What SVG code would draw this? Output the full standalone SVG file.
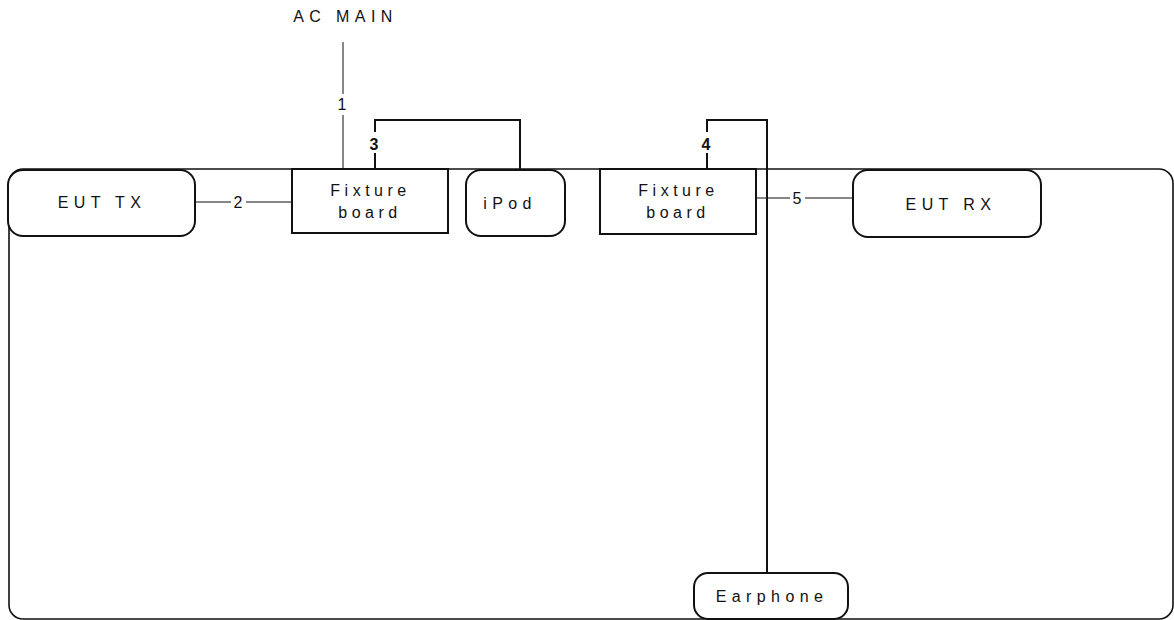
<svg xmlns="http://www.w3.org/2000/svg" width="1174" height="620" viewBox="0 0 1174 620">
<style>
text{font-family:"Liberation Sans",Arial,sans-serif;font-size:16px;fill:#111;text-anchor:middle;letter-spacing:5.4px}
.fx{letter-spacing:4.5px}
.lbl{letter-spacing:0}
.b{font-weight:bold}
.box{fill:#fff;stroke:#111;stroke-width:2}
.thin{fill:none;stroke:#111;stroke-width:1}
.thick{fill:none;stroke:#111;stroke-width:2}
</style>
<rect x="9" y="169" width="1164" height="450" rx="14" fill="none" stroke="#111" stroke-width="1.6"/>
<g id="connectors">
<line class="thin" x1="343" y1="42" x2="343" y2="94"/>
<line class="thin" x1="343" y1="115" x2="343" y2="169"/>
<text class="lbl" x="342" y="110">1</text>
<line class="thin" x1="195" y1="202" x2="231" y2="202"/>
<line class="thin" x1="246" y1="202" x2="292" y2="202"/>
<text class="lbl" x="238" y="208">2</text>
<polyline class="thick" points="375,132 375,120 520,120 520,170"/>
<line class="thick" x1="375" y1="153" x2="375" y2="169"/>
<text class="lbl b" x="374" y="150">3</text>
<polyline class="thick" points="707,132 707,120 767,120 767,574"/>
<line class="thick" x1="707" y1="153" x2="707" y2="169"/>
<text class="lbl b" x="706" y="150">4</text>
<line class="thin" x1="756" y1="198" x2="790" y2="198"/>
<line class="thin" x1="805" y1="198" x2="853" y2="198"/>
<text class="lbl" x="797" y="204">5</text>
</g>
<text x="345.5" y="22">AC MAIN</text>
<g id="eut-tx"><rect class="box" x="8" y="170" width="187" height="66" rx="15"/><text x="102" y="208">EUT TX</text></g>
<g id="fixture1"><rect class="box" x="292" y="169" width="156" height="64"/><text class="fx" x="370.5" y="196">Fixture</text><text class="fx" x="370" y="218">board</text></g>
<g id="ipod"><rect class="box" x="466" y="170" width="99" height="66" rx="15"/><text x="510" y="209">iPod</text></g>
<g id="fixture2"><rect class="box" x="600" y="169" width="156" height="65"/><text class="fx" x="678.5" y="196">Fixture</text><text class="fx" x="678" y="218">board</text></g>
<g id="eut-rx"><rect class="box" x="853" y="170" width="188" height="67" rx="15"/><text x="951" y="210">EUT RX</text></g>
<g id="earphone"><rect class="box" x="694" y="573" width="154" height="46" rx="14"/><text x="772" y="602">Earphone</text></g>
</svg>
